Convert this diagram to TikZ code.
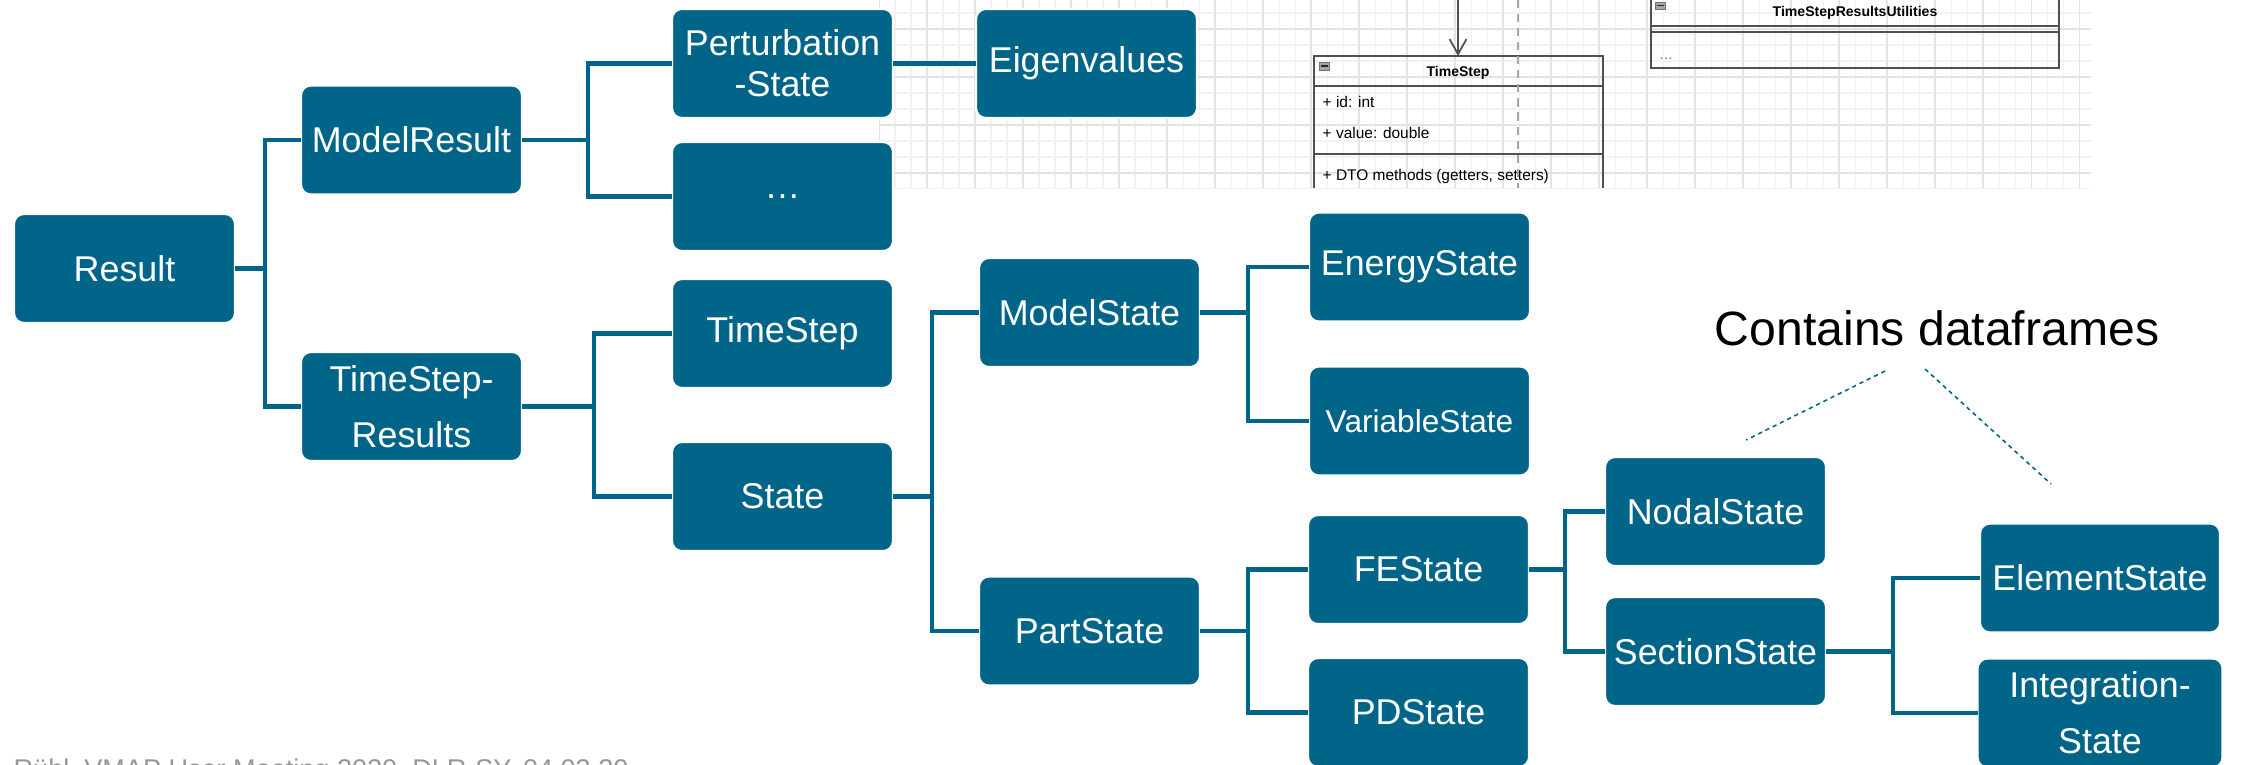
\documentclass[tikz,border=0pt]{standalone}
\usepackage{fontspec}
\setmainfont{Liberation Sans}
\usetikzlibrary{positioning,arrows.meta}

\definecolor{dlrblue}{RGB}{0,101,137}
\definecolor{umlline}{RGB}{80,80,80}
\definecolor{footgray}{RGB}{150,150,150}

\tikzset{
  box/.style={fill=dlrblue, draw=white, line width=0.6pt, rounded corners=0.1cm,
    text=white, minimum width=2.21cm, minimum height=1.09cm, inner sep=0pt,
    outer sep=0pt, align=center, font=\fontsize{10.2pt}{15.9pt}\selectfont},
  link/.style={draw=dlrblue, line width=1.4pt},
  hint/.style={draw=dlrblue, line width=0.45pt, dash pattern=on 1.2pt off 1.1pt},
  umltext/.style={inner sep=0pt, font=\fontsize{4.4pt}{5pt}\selectfont},
  umlhead/.style={inner sep=0pt, font=\fontsize{4pt}{5pt}\selectfont\bfseries},
}

\begin{document}
\begin{tikzpicture}
  \useasboundingbox (0,0) rectangle (22.41,-7.64);

  % screenshot of the class diagram in the background
  \begin{scope}
    \clip (8.79,0) rectangle (20.91,-1.88);
    \foreach \k in {0,...,75}
      \draw[black!5, line width=0.3pt] ({8.79+0.16*\k},0) -- ++(0,-1.88);
    \foreach \k in {-1,...,11}
      \draw[black!5, line width=0.3pt] (8.79,{-0.13-0.16*\k}) -- ++(12.12,0);
    \foreach \k in {0,...,25}
      \draw[black!11, line width=0.3pt] ({8.79+0.48*\k},0) -- ++(0,-1.88);
    \foreach \k in {0,...,3}
      \draw[black!11, line width=0.3pt] (8.79,{-0.29-0.48*\k}) -- ++(12.12,0);

    % TimeStep class
    \draw[umlline, line width=0.5pt] (13.14,-1.88) -- (13.14,-0.56) -- (16.03,-0.56) -- (16.03,-1.88);
    \draw[umlline, line width=0.5pt] (13.14,-0.86) -- (16.03,-0.86);
    \draw[umlline, line width=0.5pt] (13.14,-1.54) -- (16.03,-1.54);
    \filldraw[fill=black!35, draw=black!55, line width=0.2pt] (13.19,-0.62) rectangle (13.29,-0.70);
    \draw[black!85, line width=0.4pt] (13.205,-0.66) -- (13.275,-0.66);
    \node[umlhead, anchor=base] (umlts) at (14.58,-0.76) {TimeStep};
    \node[umltext, anchor=base west] (umlid) at (13.22,-1.07) {+ id: int};
    \node[umltext, anchor=base west] (umlval) at (13.22,-1.38) {+ value: double};
    \node[umltext, anchor=base west] (umldto) at (13.22,-1.80) {+ DTO methods (getters, setters)};

    \coordinate (umlin) at (14.58,0.05);
    \coordinate (umltop) at (14.58,-0.56);
    \draw[umlline, line width=0.5pt, -{Straight Barb[length=4.3pt,width=4.8pt]}] (umlin) -- (umltop);
    \draw[black!35, line width=0.4pt, dash pattern=on 2.3pt off 1.7pt] (15.18,0) -- (15.18,-1.88);

    % TimeStepResultsUtilities class
    \draw[umlline, line width=0.5pt] (16.51,0.05) -- (16.51,-0.68) -- (20.59,-0.68) -- (20.59,0.05);
    \draw[umlline, line width=0.5pt] (16.51,-0.26) -- (20.59,-0.26);
    \draw[umlline, line width=0.5pt] (16.51,-0.32) -- (20.59,-0.32);
    \filldraw[fill=black!35, draw=black!55, line width=0.2pt] (16.55,-0.02) rectangle (16.65,-0.09);
    \draw[black!85, line width=0.4pt] (16.565,-0.055) -- (16.635,-0.055);
    \node[umlhead, anchor=base] (umlutil) at (18.55,-0.16) {TimeStepResultsUtilities};
    \node[umltext, anchor=base west, text=black!50] (umldots) at (16.59,-0.59) {...};
  \end{scope}

  % tree of result classes
  \node[box] (res) at (1.245,-2.685) {Result};
  \node[box, right=0.66cm of res, yshift=1.285cm] (mres) {ModelResult};
  \node[box, right=0.66cm of res, yshift=-1.38cm] (tsr) {TimeStep-\\Results};
  \node[box, right=1.5cm of mres, yshift=0.765cm,
        font=\fontsize{10.2pt}{11.7pt}\selectfont] (pert) {Perturbation\\-State};
  \node[box, below=0.24cm of pert] (more) {…};
  \node[box, right=0.83cm of pert] (eig) {Eigenvalues};
  \node[box, right=1.5cm of tsr, yshift=0.73cm] (tstep) {TimeStep};
  \node[box, below=0.54cm of tstep] (state) {State};
  \node[box, right=0.86cm of state, yshift=1.84cm] (mstate) {ModelState};
  \node[box, right=0.86cm of state, yshift=-1.345cm] (pstate) {PartState};
  \node[box, right=1.09cm of mstate, yshift=0.455cm] (energy) {EnergyState};
  \node[box, below=0.45cm of energy, font=\fontsize{9pt}{11pt}\selectfont] (variable) {VariableState};
  \node[box, right=1.08cm of pstate, yshift=0.615cm] (fe) {FEState};
  \node[box, below=0.34cm of fe] (pd) {PDState};
  \node[box, right=0.76cm of fe, yshift=0.58cm] (nodal) {NodalState};
  \node[box, below=0.31cm of nodal] (section) {SectionState};
  \node[box, right=1.54cm of section, yshift=0.735cm, minimum width=2.4cm] (element) {ElementState};
  \node[box, below=0.26cm of element, minimum width=2.45cm] (integ) {Integration-\\State};

  \draw[link] (res.east) -- ++(0.3,0) |- (mres.west);
  \draw[link] (res.east) -- ++(0.3,0) |- (tsr.west);
  \draw[link] (mres.east) -- ++(0.66,0) |- (pert.west);
  \draw[link] (mres.east) -- ++(0.66,0) |- (more.west);
  \draw[link] (pert.east) -- (eig.west);
  \draw[link] (tsr.east) -- ++(0.72,0) |- (tstep.west);
  \draw[link] (tsr.east) -- ++(0.72,0) |- (state.west);
  \draw[link] (state.east) -- ++(0.39,0) |- (mstate.west);
  \draw[link] (state.east) -- ++(0.39,0) |- (pstate.west);
  \draw[link] (mstate.east) -- ++(0.48,0) |- (energy.west);
  \draw[link] (mstate.east) -- ++(0.48,0) |- (variable.west);
  \draw[link] (pstate.east) -- ++(0.48,0) |- (fe.west);
  \draw[link] (pstate.east) -- ++(0.48,0) |- (pd.west);
  \draw[link] (fe.east) -- ++(0.36,0) |- (nodal.west);
  \draw[link] (fe.east) -- ++(0.36,0) |- (section.west);
  \draw[link] (section.east) -- ++(0.67,0) |- (element.west);
  \draw[link] (section.east) -- ++(0.67,0) |- (integ.west);

  % note on the dataframes
  \node[anchor=base, inner sep=0pt, font=\fontsize{13.7pt}{16pt}\selectfont] (note) at (19.37,-3.45) {Contains dataframes};
  \coordinate (hintA) at (18.85,-3.71);
  \coordinate (hintB) at (17.46,-4.40);
  \coordinate (hintC) at (19.25,-3.69);
  \coordinate (hintD) at (20.51,-4.84);
  \draw[hint] (hintA) -- (hintB);
  \draw[hint] (hintC) -- (hintD);

  % footer, cut by the page edge
  \node[anchor=base west, inner sep=0pt, text=footgray, font=\fontsize{7.7pt}{9pt}\selectfont] (footer) at (0.13,-7.78)
    {Rühl, VMAP User Meeting 2020, DLR-SY, 04.03.20};
\end{tikzpicture}
\end{document}
